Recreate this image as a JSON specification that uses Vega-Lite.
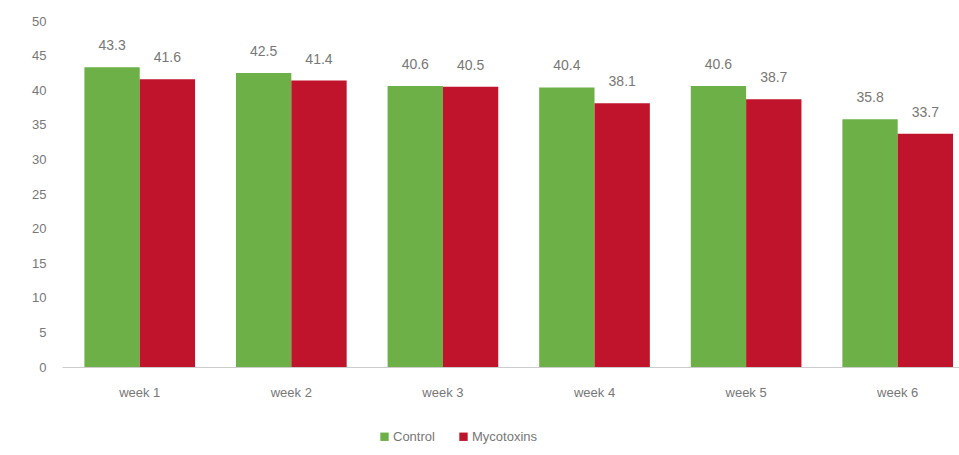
{
  "$schema": "https://vega.github.io/schema/vega-lite/v6.json",
  "autosize": {"type": "none"},
  "padding": {"left": 62, "top": 21, "right": 0, "bottom": 88},
  "width": 897,
  "height": 346,
  "background": "white",
  "config": {
    "font": "Liberation Sans",
    "view": {"stroke": null}
  },
  "data": {
    "values": [
      {"week": "week 1", "group": "Control", "value": 43.3},
      {"week": "week 1", "group": "Mycotoxins", "value": 41.6},
      {"week": "week 2", "group": "Control", "value": 42.5},
      {"week": "week 2", "group": "Mycotoxins", "value": 41.4},
      {"week": "week 3", "group": "Control", "value": 40.6},
      {"week": "week 3", "group": "Mycotoxins", "value": 40.5},
      {"week": "week 4", "group": "Control", "value": 40.4},
      {"week": "week 4", "group": "Mycotoxins", "value": 38.1},
      {"week": "week 5", "group": "Control", "value": 40.6},
      {"week": "week 5", "group": "Mycotoxins", "value": 38.7},
      {"week": "week 6", "group": "Control", "value": 35.8},
      {"week": "week 6", "group": "Mycotoxins", "value": 33.7}
    ]
  },
  "encoding": {
    "x": {
      "field": "week",
      "type": "nominal",
      "scale": {"paddingInner": 0.27, "paddingOuter": 0.0935, "align": 0.79},
      "axis": {
        "title": null,
        "labelAngle": 0,
        "labelFontSize": 13,
        "labelColor": "#777777",
        "labelPadding": 19,
        "ticks": false,
        "domainColor": "#cccccc",
        "domainWidth": 1
      }
    },
    "xOffset": {"field": "group", "type": "nominal", "sort": ["Control", "Mycotoxins"]},
    "y": {
      "field": "value",
      "type": "quantitative",
      "scale": {"domain": [0, 50]},
      "axis": {
        "title": null,
        "values": [0, 5, 10, 15, 20, 25, 30, 35, 40, 45, 50],
        "grid": false,
        "domain": false,
        "ticks": false,
        "labelFontSize": 13,
        "labelColor": "#777777",
        "labelPadding": 16
      }
    }
  },
  "layer": [
    {
      "mark": {"type": "bar"},
      "encoding": {
        "color": {
          "field": "group",
          "type": "nominal",
          "scale": {"domain": ["Control", "Mycotoxins"], "range": ["#6cb047", "#c0142c"]},
          "legend": {
            "title": null,
            "orient": "none",
            "legendX": 316,
            "legendY": 409,
            "direction": "horizontal",
            "symbolType": "square",
            "symbolSize": 70,
            "symbolStrokeWidth": 0,
            "labelFontSize": 13,
            "labelColor": "#777777",
            "labelOffset": 2,
            "columnPadding": 22
          }
        }
      }
    },
    {
      "mark": {"type": "text", "baseline": "bottom", "dy": -14, "fontSize": 14, "color": "#777777"},
      "encoding": {
        "text": {"field": "value", "type": "quantitative", "format": ".1f"}
      }
    }
  ]
}
